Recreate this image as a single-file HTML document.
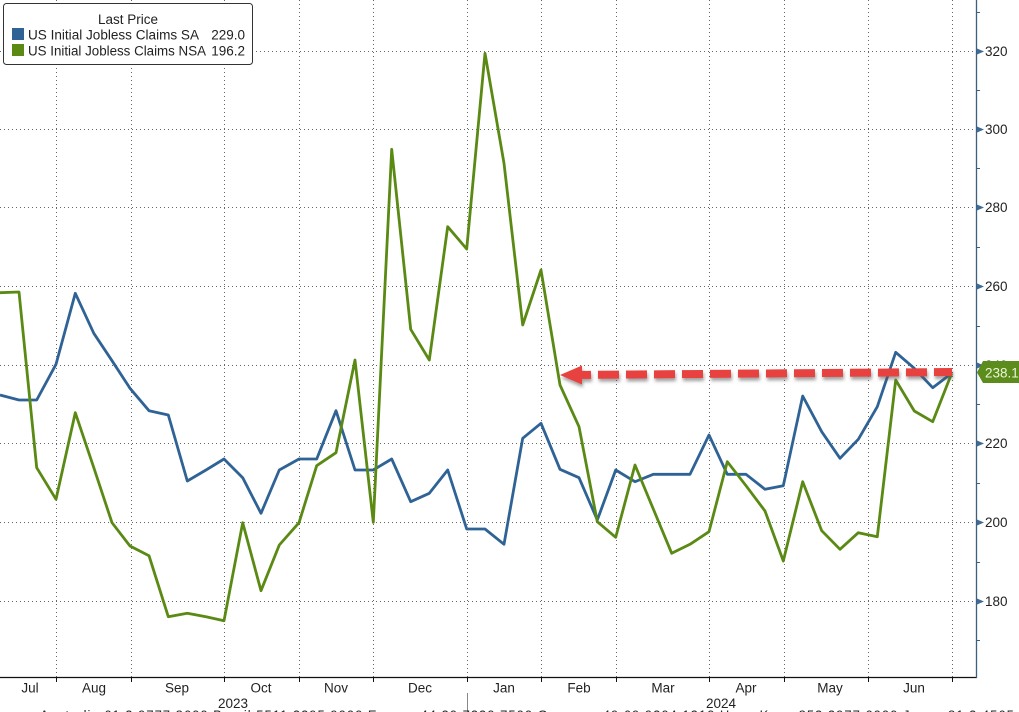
<!DOCTYPE html>
<html><head><meta charset="utf-8"><style>
html,body{margin:0;padding:0;background:#fff;}
svg{display:block;}
text{font-family:"Liberation Sans",Arial,sans-serif;}
</style></head><body>
<svg width="1019" height="712" viewBox="0 0 1019 712" xmlns="http://www.w3.org/2000/svg">
<defs>
<filter id="sh" x="-5%" y="-50%" width="110%" height="250%">
<feDropShadow dx="1" dy="3" stdDeviation="1.6" flood-color="#555" flood-opacity="0.55"/>
</filter>
</defs>
<rect width="1019" height="712" fill="#fff"/>
<g stroke="#666" stroke-width="1" stroke-dasharray="1 3">
<line x1="0" y1="51.5" x2="976" y2="51.5"/>
<line x1="0" y1="129.5" x2="976" y2="129.5"/>
<line x1="0" y1="207.5" x2="976" y2="207.5"/>
<line x1="0" y1="286.5" x2="976" y2="286.5"/>
<line x1="0" y1="365.5" x2="976" y2="365.5"/>
<line x1="0" y1="443.5" x2="976" y2="443.5"/>
<line x1="0" y1="522.5" x2="976" y2="522.5"/>
<line x1="0" y1="601.5" x2="976" y2="601.5"/>
</g>
<g stroke="#666" stroke-width="1" stroke-dasharray="1 3">
<line x1="56.5" y1="0" x2="56.5" y2="677"/>
<line x1="131.5" y1="0" x2="131.5" y2="677"/>
<line x1="224.5" y1="0" x2="224.5" y2="677"/>
<line x1="299.5" y1="0" x2="299.5" y2="677"/>
<line x1="373.5" y1="0" x2="373.5" y2="677"/>
<line x1="467.5" y1="0" x2="467.5" y2="677"/>
<line x1="541.5" y1="0" x2="541.5" y2="677"/>
<line x1="616.5" y1="0" x2="616.5" y2="677"/>
<line x1="709.5" y1="0" x2="709.5" y2="677"/>
<line x1="784.5" y1="0" x2="784.5" y2="677"/>
<line x1="868.5" y1="0" x2="868.5" y2="677"/>
<line x1="952.5" y1="0" x2="952.5" y2="677"/>
</g>
<line x1="0" y1="677.5" x2="977" y2="677.5" stroke="#111" stroke-width="1.2"/>
<line x1="976.5" y1="0" x2="976.5" y2="678" stroke="#3d5f80" stroke-width="1.3"/>
<g stroke="#111" stroke-width="1">
<line x1="56.5" y1="677" x2="56.5" y2="682"/>
<line x1="131.5" y1="677" x2="131.5" y2="682"/>
<line x1="224.5" y1="677" x2="224.5" y2="682"/>
<line x1="299.5" y1="677" x2="299.5" y2="682"/>
<line x1="373.5" y1="677" x2="373.5" y2="682"/>
<line x1="467.5" y1="677" x2="467.5" y2="682"/>
<line x1="541.5" y1="677" x2="541.5" y2="682"/>
<line x1="616.5" y1="677" x2="616.5" y2="682"/>
<line x1="709.5" y1="677" x2="709.5" y2="682"/>
<line x1="784.5" y1="677" x2="784.5" y2="682"/>
<line x1="868.5" y1="677" x2="868.5" y2="682"/>
<line x1="952.5" y1="677" x2="952.5" y2="682"/>
</g>
<line x1="467.5" y1="693" x2="467.5" y2="712" stroke="#888" stroke-width="1"/>
<g stroke="#3d5f80" stroke-width="1">
<line x1="976" y1="12.5" x2="980" y2="12.5"/>
<line x1="976" y1="90.5" x2="980" y2="90.5"/>
<line x1="976" y1="168.5" x2="980" y2="168.5"/>
<line x1="976" y1="247.5" x2="980" y2="247.5"/>
<line x1="976" y1="326.5" x2="980" y2="326.5"/>
<line x1="976" y1="404.5" x2="980" y2="404.5"/>
<line x1="976" y1="483.5" x2="980" y2="483.5"/>
<line x1="976" y1="562.5" x2="980" y2="562.5"/>
<line x1="976" y1="640.5" x2="980" y2="640.5"/>
</g>
<g fill="#3d6a96">
<polygon points="977,48.5 984,51.5 977,54.5"/>
<polygon points="977,126.5 984,129.5 977,132.5"/>
<polygon points="977,204.5 984,207.5 977,210.5"/>
<polygon points="977,283.5 984,286.5 977,289.5"/>
<polygon points="977,362.5 984,365.5 977,368.5"/>
<polygon points="977,440.5 984,443.5 977,446.5"/>
<polygon points="977,519.5 984,522.5 977,525.5"/>
<polygon points="977,598.5 984,601.5 977,604.5"/>
</g>
<g font-size="13.5" fill="#222">
<text x="985" y="56">320</text>
<text x="985" y="134">300</text>
<text x="985" y="212">280</text>
<text x="985" y="291">260</text>
<text x="985" y="370">240</text>
<text x="985" y="448">220</text>
<text x="985" y="527">200</text>
<text x="985" y="606">180</text>
</g>
<g font-size="13.5" fill="#222" text-anchor="middle">
<text x="30" y="692.5">Jul</text>
<text x="94" y="692.5">Aug</text>
<text x="177" y="692.5">Sep</text>
<text x="261" y="692.5">Oct</text>
<text x="336" y="692.5">Nov</text>
<text x="420" y="692.5">Dec</text>
<text x="504" y="692.5">Jan</text>
<text x="579" y="692.5">Feb</text>
<text x="663" y="692.5">Mar</text>
<text x="746" y="692.5">Apr</text>
<text x="830" y="692.5">May</text>
<text x="914" y="692.5">Jun</text>
<text x="233" y="708">2023</text>
<text x="721" y="708">2024</text>
</g>
<text x="40" y="719.5" font-size="13" fill="#222" letter-spacing="1">Australia 61 2 9777 8600 Brazil 5511 2395 9000 Europe 44 20 7330 7500 Germany 49 69 9204 1210 Hong Kong 852 2977 6000 Japan 81 3 4565 8900 Singapore 65 6212 1000 U.S. 1 212 318 2000</text>
<polyline fill="none" stroke="#2f6395" stroke-width="2.8" stroke-linejoin="round" points="0,395 19,400 36.7,400 56,364.3 75.3,293.3 93.8,333.3 112,360.7 130,388.3 149,410.7 168.3,415 187.3,481 206,470 224,459 242.7,477.7 261,513.3 279.3,470 299,459 316.7,459 336,410.7 355,470 373.3,470 391.7,459 410.7,501.7 429.3,493.3 447.7,470 466.7,529 485,529 504,544.3 522.7,438.3 541,423.3 560,469.3 579,477.7 597.3,520 615.7,470 635,481.7 653.3,474.3 671.7,474.3 690,474.3 709,435 727.3,474.3 746,474.3 765,489.3 783.3,485.7 802.7,396 821.7,431.7 840,458.3 858.3,439.3 877.3,406.7 895.7,352.3 914.3,368.3 932.7,387.7 951.7,373.3"/>
<polyline fill="none" stroke="#5a8a14" stroke-width="2.8" stroke-linejoin="round" points="0,292.7 19,292 36.7,467.7 56,499.3 75.3,412.7 93.8,467.7 112,522.7 130,546 149,555.7 168.3,616.7 187.3,613.3 206,616.7 224,620.7 242.7,522.7 261,590.7 279.3,545 299,522.7 316.7,465.7 336,452.7 355,360 373.3,522.3 391.7,149.3 410.7,329.3 429.3,360 447.7,226.7 466.7,249 485,53.3 504,163.3 522.7,325 541,270 560,385 579,426.7 597.3,521.7 615.7,537.3 635,465 653.3,509 671.7,553.3 690,544.3 709,531.7 727.3,461.7 746,485.7 765,511 783.3,561 802.7,481.7 821.7,530.7 840,549.3 858.3,532.7 877.3,536.7 895.7,380 914.3,411 932.7,421.7 951.7,373.3"/>
<g filter="url(#sh)" fill="#e8433f" stroke="none">
<polygon points="560,375 582,365.5 582,384.5"/>
<line x1="570" y1="375" x2="952" y2="372" stroke="#e8433f" stroke-width="8" stroke-dasharray="21 7"/>
</g>
<polygon points="977,372.5 983,361 1019,361 1019,383 983,383" fill="#5b8c1c"/>
<text x="985" y="377.5" font-size="13.5" fill="#eaf6d6">238.1</text>
<rect x="3.5" y="3.5" width="249" height="61" rx="3" ry="3" fill="#fff" stroke="#333" stroke-width="1"/>
<text x="128" y="24" font-size="13.5" fill="#222" text-anchor="middle">Last Price</text>
<rect x="12" y="28" width="12" height="12" fill="#2f6395"/>
<rect x="12" y="44" width="12" height="12" fill="#5a8a14"/>
<text x="28" y="39.5" font-size="13.5" fill="#222" textLength="171" lengthAdjust="spacingAndGlyphs">US Initial Jobless Claims SA</text>
<text x="28" y="55.5" font-size="13.5" fill="#222" textLength="178" lengthAdjust="spacingAndGlyphs">US Initial Jobless Claims NSA</text>
<text x="245" y="39.5" font-size="13.5" fill="#222" text-anchor="end">229.0</text>
<text x="245" y="55.5" font-size="13.5" fill="#222" text-anchor="end">196.2</text>
</svg>
</body></html>
